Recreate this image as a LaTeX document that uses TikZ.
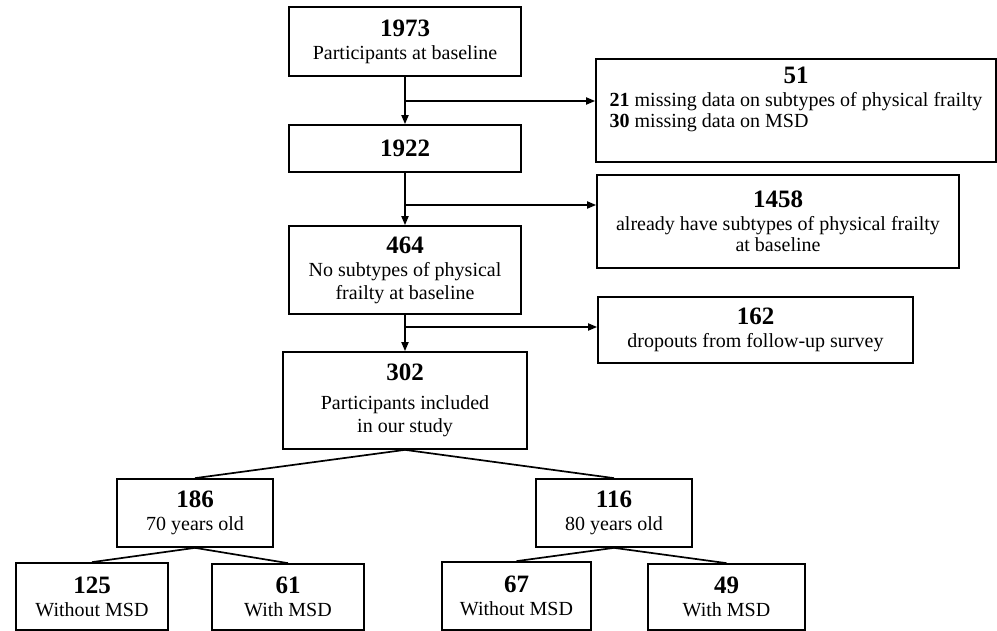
\documentclass[tikz,border=0pt]{standalone}
\usepackage{fontspec}
\setmainfont{Liberation Serif}
\usetikzlibrary{arrows.meta,calc}
\newcommand\bignum[1]{{\fontsize{25}{28}\selectfont\bfseries #1}}
\begin{document}
\begin{tikzpicture}[x=1pt,y=-1pt,
  box/.style={draw,line width=1.7pt,inner sep=0pt,align=center,font=\fontsize{20}{23}\selectfont},
  txt/.style={inner sep=0pt,align=center,font=\fontsize{20}{21}\selectfont},
  arr/.style={line width=1.7pt,-{Triangle[length=9pt,width=7pt]}},
  link/.style={line width=1.7pt}]
\useasboundingbox (0,0) rectangle (997,631);

% main column
\node[box,minimum width=232,minimum height=69] (b1973) at (405,41.5) {\bignum{1973}\\Participants at baseline};
\node[box,minimum width=232,minimum height=47] (b1922) at (405,148.5) {\bignum{1922}};
\node[box,minimum width=232,minimum height=88] (b464) at (405,270) {\bignum{464}\\No subtypes of physical\\frailty at baseline};
\node[box,minimum width=244,minimum height=97] (b302) at (405,400.5) {\bignum{302}\\[6pt]Participants included\\in our study};

% exclusion boxes
\node[box,minimum width=400,minimum height=103] (b51) at (796,110.5) {};
\node[txt,anchor=north] (t51) at ($(b51.north)+(0,9)$) {\begin{tabular}{@{}l@{}}\multicolumn{1}{@{}c@{}}{\bignum{51}}\\[2pt] \textbf{21} missing data on subtypes of physical frailty\\ \textbf{30} missing data on MSD\end{tabular}};
\node[box,minimum width=362,minimum height=93] (b1458) at (778,221.5) {\bignum{1458}\\already have subtypes of physical frailty\\[-2pt]at baseline};
\node[box,minimum width=315,minimum height=66] (b162) at (755.5,330) {\bignum{162}\\dropouts from follow-up survey};

% age groups
\node[box,minimum width=156,minimum height=68] (b186) at (195,513) {\bignum{186}\\70 years old};
\node[box,minimum width=156,minimum height=68] (b116) at (614,513) {\bignum{116}\\80 years old};

% MSD groups
\node[box,minimum width=152,minimum height=67] (b125) at (92,596.5) {\bignum{125}\\Without MSD};
\node[box,minimum width=152,minimum height=66] (b61) at (288,597) {\bignum{61}\\With MSD};
\node[box,minimum width=149,minimum height=68] (b67) at (516.5,596) {\bignum{67}\\Without MSD};
\node[box,minimum width=157,minimum height=66] (b49) at (726.5,597) {\bignum{49}\\With MSD};

% junctions
\coordinate (j1) at (b1973.south |- 0,101);
\coordinate (j2) at (b1922.south |- 0,205);
\coordinate (j3) at (b464.south |- 0,327);

% flow arrows
\draw[arr] (b1973.south) -- (b1922.north);
\draw[arr] (j1) -- (j1 -| b51.west);
\draw[arr] (b1922.south) -- (b464.north);
\draw[arr] (j2) -- (j2 -| b1458.west);
\draw[arr] (b464.south) -- (b302.north);
\draw[arr] (j3) -- (j3 -| b162.west);

% tree links
\draw[link] (b302.south) -- (b186.north);
\draw[link] (b302.south) -- (b116.north);
\draw[link] (b186.south) -- (b125.north);
\draw[link] (b186.south) -- (b61.north);
\draw[link] (b116.south) -- (b67.north);
\draw[link] (b116.south) -- (b49.north);
\end{tikzpicture}
\end{document}
